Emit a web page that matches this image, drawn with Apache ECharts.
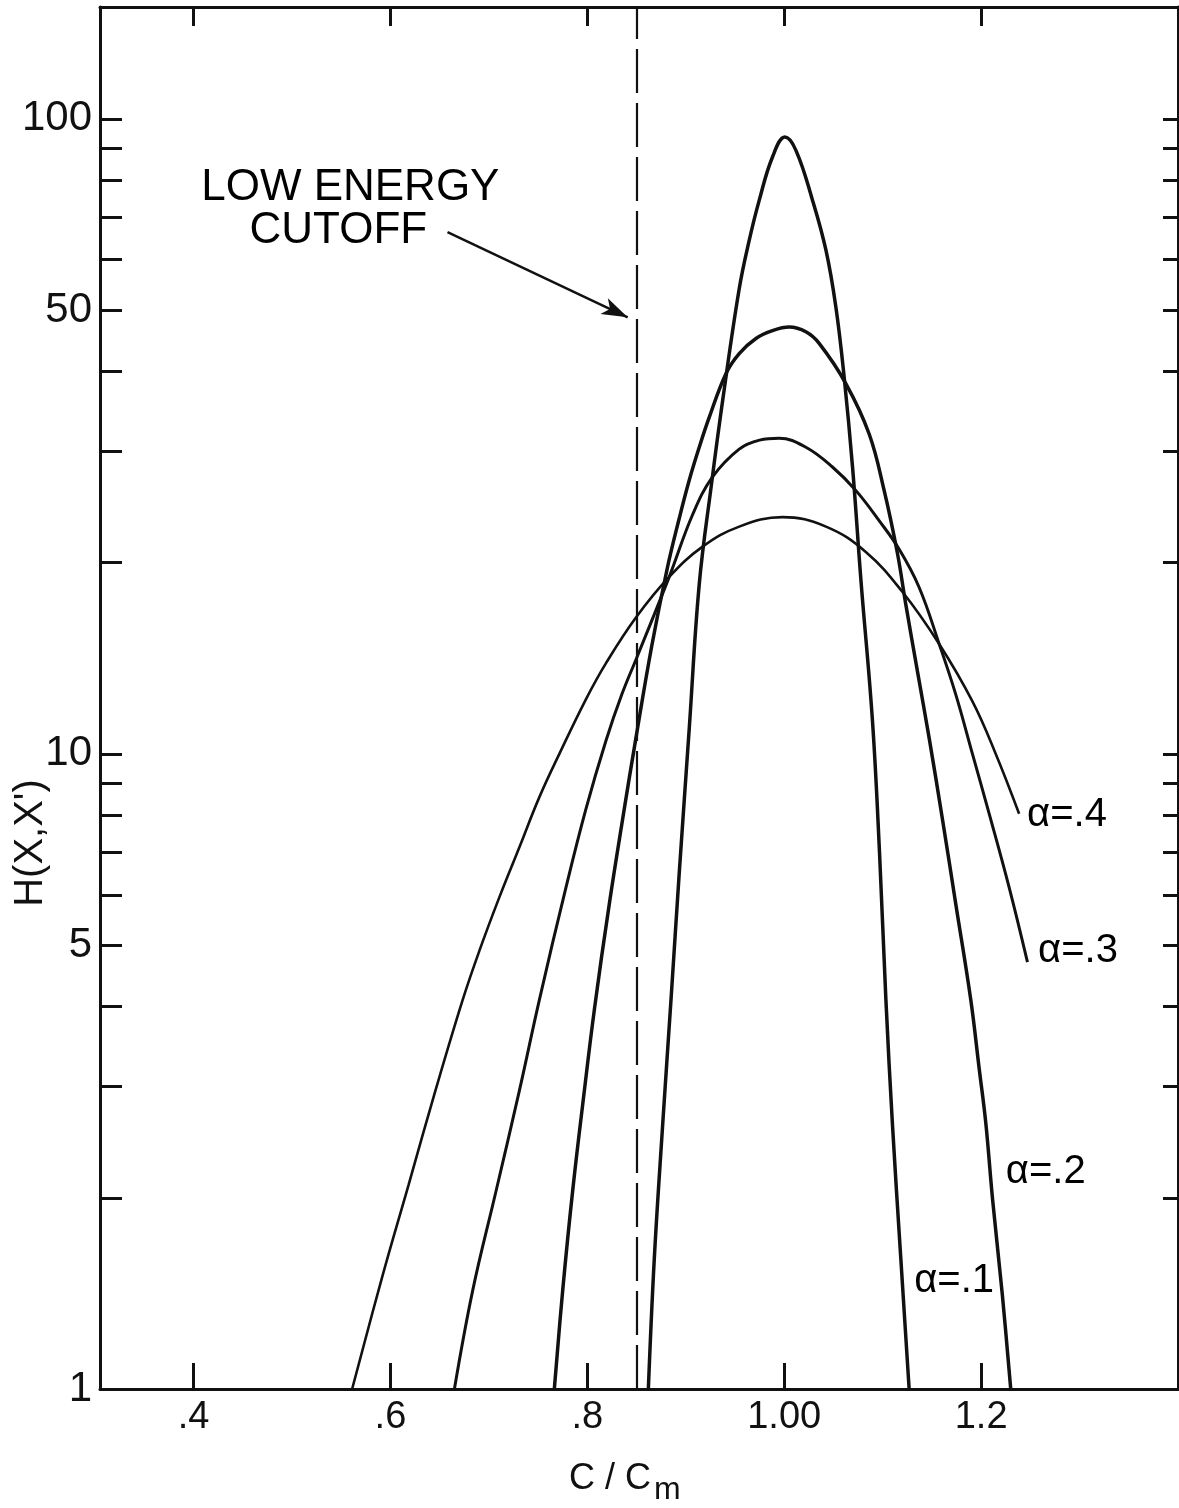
<!DOCTYPE html>
<html>
<head>
<meta charset="utf-8">
<script src="https://cdn.jsdelivr.net/npm/echarts@6/dist/echarts.min.js"></script>
<style>
  html, body { margin: 0; padding: 0; background: #ffffff; }
  #chart { width: 1179px; height: 1508px; }
</style>
</head>
<body>
<div id="chart"></div>
<script>
// H(X,X') against C/Cm for four values of alpha, as [C/Cm, H] pairs
const alpha1 = [
  [0.862, 1.0], [0.868, 1.6], [0.8765, 2.6], [0.885, 4.1], [0.8934, 6.5], [0.9036, 11.0],
  [0.9137, 18.5], [0.926, 26.5], [0.938, 36.5], [0.9543, 54.0], [0.9645, 64.4], [0.9746, 74.4],
  [0.988, 87.0], [1.0007, 93.6], [1.0119, 89.2], [1.0288, 74.4], [1.0424, 62.1], [1.0525, 50.5],
  [1.0609, 39.2], [1.0694, 28.3], [1.0779, 18.8], [1.0896, 11.3], [1.0968, 7.0], [1.1033, 4.1],
  [1.11, 2.6], [1.1185, 1.6], [1.1269, 1.0]
];
const alpha2 = [
  [0.7665, 1.0], [0.775, 1.43], [0.7851, 2.05], [0.797, 2.95], [0.8071, 3.95], [0.8223, 5.8],
  [0.8359, 7.9], [0.8494, 10.6], [0.8655, 14.8], [0.8812, 19.6], [0.8934, 23.5], [0.9036, 27.0],
  [0.9137, 30.4], [0.9239, 33.9], [0.9408, 39.7], [0.9543, 42.7], [0.9713, 45.1], [0.9881, 46.4],
  [1.0051, 47.0], [1.022, 46.2], [1.0355, 44.3], [1.0626, 38.3], [1.0863, 31.9], [1.1015, 26.0],
  [1.115, 20.7], [1.1235, 17.2], [1.1353, 13.5], [1.1472, 10.6], [1.1607, 7.9], [1.1743, 5.8],
  [1.1895, 4.1], [1.198, 3.2], [1.2048, 2.62], [1.2115, 2.0], [1.2217, 1.4], [1.2301, 1.0]
];
const alpha3 = [
  [0.665, 1.0], [0.6836, 1.43], [0.7073, 2.05], [0.731, 2.95], [0.7513, 4.1], [0.7784, 6.17],
  [0.7987, 8.2], [0.819, 10.5], [0.835, 12.4], [0.8504, 14.2], [0.8832, 19.0], [0.9069, 23.8],
  [0.9272, 27.3], [0.9543, 30.2], [0.975, 31.2], [0.9949, 31.4], [1.022, 30.4], [1.049, 28.3],
  [1.0727, 26.0], [1.0964, 23.3], [1.1168, 21.0], [1.137, 18.3], [1.1574, 14.9], [1.1743, 12.4],
  [1.1912, 10.0], [1.2081, 8.06], [1.2284, 6.17], [1.2471, 4.7]
];
const alpha4 = [
  [0.5611, 1.0], [0.5916, 1.5], [0.6186, 2.1], [0.6457, 2.95], [0.6734, 4.1], [0.6904, 4.9],
  [0.7107, 5.95], [0.731, 7.13], [0.7513, 8.55], [0.7716, 10.0], [0.7987, 12.2], [0.819, 13.9],
  [0.8494, 16.4], [0.8832, 19.0], [0.9171, 21.2], [0.9543, 22.8], [0.9983, 23.6], [1.0424, 22.8],
  [1.0829, 20.8], [1.12, 18.0], [1.1574, 14.9], [1.1912, 12.1], [1.2149, 10.0], [1.2386, 8.05]
];

// Axis ticks and labels
const xTickValues = [0.4, 0.6, 0.8, 1.0, 1.2];
const xTickLabels = ['.4', '.6', '.8', '1.00', '1.2'];
const yTickValues = [1, 2, 3, 4, 5, 6, 7, 8, 9, 10, 20, 30, 40, 50, 60, 70, 80, 90, 100];
const yLabelValues = [1, 5, 10, 50, 100];

// Low energy cutoff line and its pointer
const cutoffX = 0.85;
const arrowFrom = [0.658, 66.3];
const arrowTo = [0.841, 48.7];

// Text placed in data space: [C/Cm, H, text]
const curveLabels = [
  [1.2467, 8.0, 'α=.4'],
  [1.2579, 4.89, 'α=.3'],
  [1.2251, 2.2, 'α=.2'],
  [1.132, 1.477, 'α=.1']
];
const noteLabels = [
  [0.4078, 77.9, 'LOW ENERGY'],
  [0.4569, 66.5, 'CUTOFF']
];

const FONT = 'Liberation Sans';
const INK = '#111111';

function xLabel(v) {
  const i = xTickValues.findIndex(t => Math.abs(t - v) < 1e-6);
  return i >= 0 ? xTickLabels[i] : '';
}

const frameLine = { show: true, onZero: false, lineStyle: { color: INK, width: 3 } };

function curve(name, data, width) {
  return {
    name, type: 'line', data,
    xAxisIndex: 0, yAxisIndex: 0,
    showSymbol: false, symbol: 'none',
    smooth: 0.4,
    lineStyle: { color: INK, width },
    z: 3
  };
}

const series = [
  curve('α=.1', alpha1, 3.5),
  curve('α=.2', alpha2, 3.5),
  curve('α=.3', alpha3, 3),
  curve('α=.4', alpha4, 2.6)
];

series[0].markLine = {
  silent: true,
  animation: false,
  symbol: ['none', 'none'],
  label: { show: false },
  lineStyle: { color: INK, type: 'solid', width: 2.5 },
  data: [
    { xAxis: cutoffX, lineStyle: { type: [44, 10], width: 2.2, color: INK } },
    [
      { coord: arrowFrom, symbol: 'none' },
      { coord: arrowTo, symbol: 'arrow', symbolSize: [13, 26] }
    ]
  ]
};

// annotation text, anchored at its left edge
series.push({
  name: 'labels', type: 'scatter',
  data: curveLabels.map(d => ({ value: d }))
    .concat(noteLabels.map(d => ({ value: d, label: { fontSize: 44 } }))),
  symbol: 'circle', symbolSize: 0,
  itemStyle: { color: INK, opacity: 1 },
  silent: true,
  label: {
    show: true, position: 'right', distance: 0,
    formatter: p => p.value[2],
    fontFamily: FONT, color: '#000000', opacity: 1,
    fontSize: 40
  },
  emphasis: { disabled: true },
  labelLayout: { hideOverlap: false },
  z: 4
});

const option = {
  animation: false,
  backgroundColor: '#ffffff',
  grid: { left: 100, right: 1, top: 7, bottom: 119, containLabel: false, outerBoundsMode: 'none' },
  xAxis: [
    {
      type: 'value', position: 'bottom', min: 0.305, max: 1.4,
      axisLine: frameLine,
      axisTick: { show: true, inside: true, length: 26, customValues: xTickValues, lineStyle: { color: INK, width: 3 } },
      axisLabel: { show: true, customValues: xTickValues, formatter: xLabel, fontFamily: FONT, fontSize: 38, color: INK, margin: 10 },
      splitLine: { show: false }
    },
    {
      type: 'value', position: 'top', min: 0.305, max: 1.4,
      axisLine: frameLine,
      axisTick: { show: true, inside: true, length: 19, customValues: xTickValues, lineStyle: { color: INK, width: 3 } },
      axisLabel: { show: false },
      splitLine: { show: false }
    }
  ],
  yAxis: [
    {
      type: 'log', logBase: 10, position: 'left', min: 1, max: 150,
      axisLine: frameLine,
      axisTick: { show: true, inside: true, length: 22, customValues: yTickValues, lineStyle: { color: INK, width: 3 } },
      axisLabel: {
        show: true, customValues: yLabelValues,
        formatter: v => String(Math.round(v)),
        fontFamily: FONT, fontSize: 42, color: INK, margin: 8,
        showMinLabel: true, showMaxLabel: true
      },
      minorTick: { show: false },
      splitLine: { show: false }
    },
    {
      type: 'log', logBase: 10, position: 'right', min: 1, max: 150,
      axisLine: frameLine,
      axisTick: { show: true, inside: true, length: 15, customValues: yTickValues, lineStyle: { color: INK, width: 3 } },
      axisLabel: { show: false },
      minorTick: { show: false },
      splitLine: { show: false }
    }
  ],
  graphic: [
    {
      type: 'text', x: 31, y: 843, rotation: Math.PI / 2,
      style: { text: "H(X,X')", font: '40px "' + FONT + '"', fill: INK, align: 'center', verticalAlign: 'middle' }
    },
    {
      type: 'text', x: 651, y: 1479,
      style: { text: 'C / C', font: '36px "' + FONT + '"', fill: INK, align: 'right', verticalAlign: 'middle' }
    },
    {
      type: 'text', x: 654, y: 1490,
      style: { text: 'm', font: '32px "' + FONT + '"', fill: INK, align: 'left', verticalAlign: 'middle' }
    }
  ],
  series
};

const chart = echarts.init(document.getElementById('chart'), null, { renderer: 'canvas' });
chart.setOption(option);
</script>
</body>
</html>
